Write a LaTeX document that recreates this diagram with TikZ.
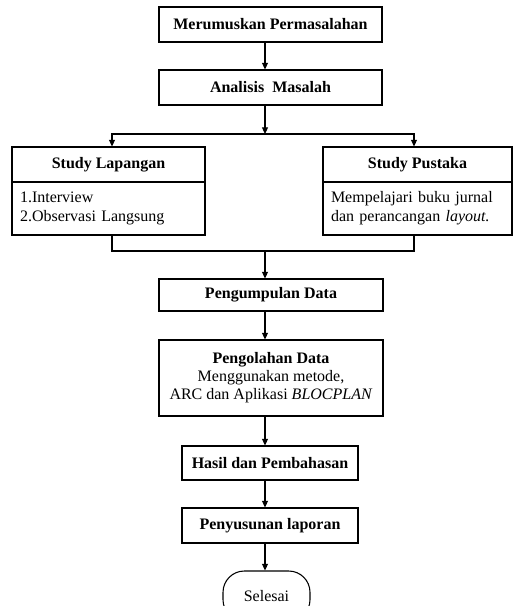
\documentclass[tikz,border=0pt]{standalone}
\usepackage{fontspec}
\setmainfont{Liberation Serif}
\usetikzlibrary{arrows.meta}

\begin{document}
\begin{tikzpicture}[x=0.75pt,y=-0.75pt,
    font=\fontsize{12}{14}\selectfont,
    line width=0.8pt,
    box/.style={draw, rectangle, inner sep=0pt, align=center},
    listbox/.style={draw, rectangle, inner xsep=6pt, inner ysep=0pt, align=left},
    arr/.style={-{Triangle[length=5pt,width=4.5pt]}}]
    \useasboundingbox (0,0) rectangle (518,606);
    \clip (0,0) rectangle (518,606);

    % spine of the flow
    \coordinate (spine) at (265,0);
    \coordinate (leftx) at (112,0);
    \coordinate (rightx) at (414,0);
    \coordinate (split) at (265,134);
    \coordinate (join) at (265,251);

    \node[box, minimum width=167.25pt, minimum height=26.25pt] (merumuskan) at (270.5,24.5) {\textbf{Merumuskan Permasalahan}};
    \node[box, minimum width=167.25pt, minimum height=26.25pt] (analisis) at (270.5,87.5) {\textbf{Analisis\ \ Masalah}};

    \node[box, minimum width=144.75pt, minimum height=26.25pt] (lapangan) at (108.5,164.5) {\textbf{Study Lapangan}};
    \node[listbox, text width=132.75pt, minimum height=39.75pt] (lapanganisi) at (108.5,208.5) {1.Interview\\2.Observasi Langsung};

    \node[box, minimum width=141.75pt, minimum height=26.25pt] (pustaka) at (417.5,164.5) {\textbf{Study Pustaka}};
    \node[listbox, text width=129.75pt, minimum height=39.75pt] (pustakaisi) at (417.5,208.5) {Mempelajari buku jurnal\\dan perancangan \textit{layout.}};

    \node[box, minimum width=168pt, minimum height=24pt] (pengumpulan) at (271,295) {\textbf{Pengumpulan Data}};
    \node[box, minimum width=168pt, minimum height=57pt] (pengolahan) at (271,378) {\textbf{Pengolahan Data}\\[-1pt]Menggunakan metode,\\ARC dan Aplikasi \textit{BLOCPLAN}};
    \node[box, minimum width=132pt, minimum height=25.5pt] (hasil) at (270,463) {\textbf{Hasil dan Pembahasan}};
    \node[box, minimum width=132pt, minimum height=26.25pt] (penyusunan) at (270,525.5) {\textbf{Penyusunan laporan}};
    \node[box, rounded corners=16pt, minimum width=65.25pt, minimum height=37.5pt] (selesai) at (266.5,596) {Selesai};

    \draw[arr] (merumuskan.south -| spine) -- (analisis.north -| spine);
    \draw[arr] (analisis.south -| spine) -- (split);
    \draw[arr] (split) -| (lapangan.north -| leftx);
    \draw[arr] (split) -| (pustaka.north -| rightx);

    \draw (lapanganisi.south -| leftx) |- (join) -| (pustakaisi.south -| rightx);
    \draw[arr] (join) -- (pengumpulan.north -| spine);

    \draw[arr] (pengumpulan.south -| spine) -- (pengolahan.north -| spine);
    \draw[arr] (pengolahan.south -| spine) -- (hasil.north -| spine);
    \draw[arr] (hasil.south -| spine) -- (penyusunan.north -| spine);
    \draw[arr] (penyusunan.south -| spine) -- (selesai.north -| spine);
\end{tikzpicture}
\end{document}
